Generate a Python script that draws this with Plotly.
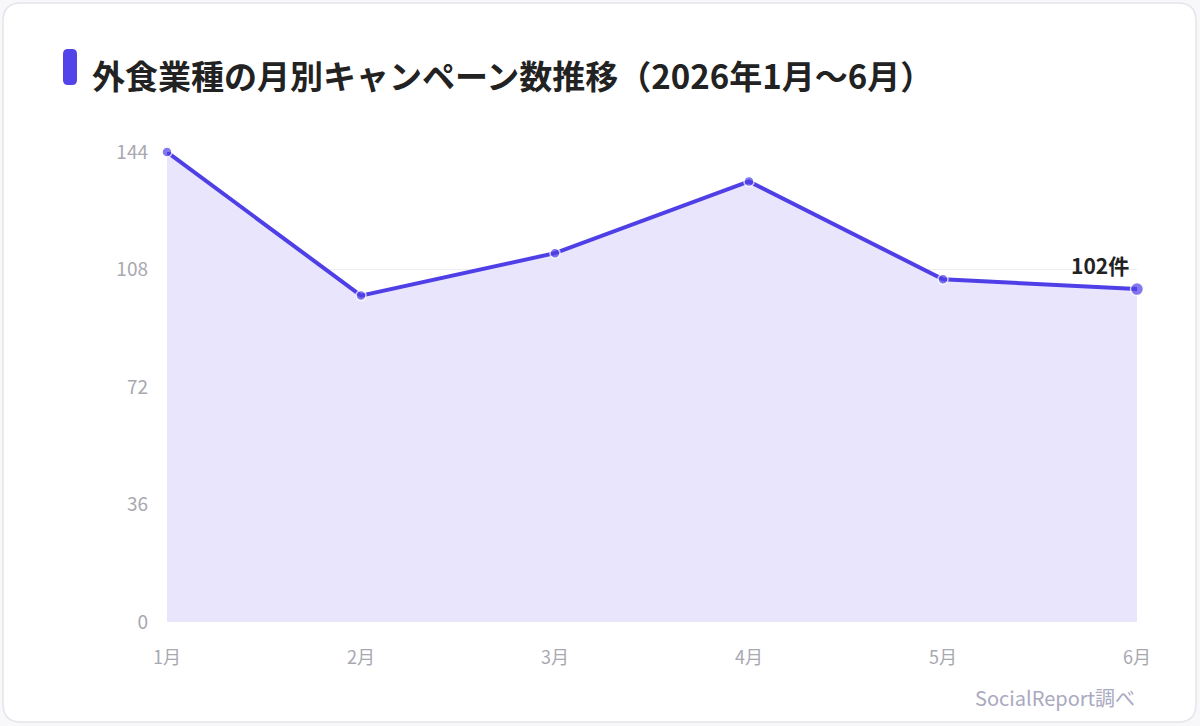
import plotly.graph_objects as go

months = ["1月", "2月", "3月", "4月", "5月", "6月"]
counts = [144, 100, 113, 135, 105, 102]
y_ticks = [0, 36, 72, 108, 144]
title_text = "外食業種の月別キャンペーン数推移（2026年1月〜6月）"
source_text = "SocialReport調べ"

LINE = "#4F3FE6"
FONT = "Noto Sans CJK JP"

# plot area in pixels: x 167..1137, y 152..622
PL, PR, PT, PB = 167, 1137, 152, 622
W, H = 1200, 726


def px_x(x):
    return (x - PL) / (PR - PL)


def px_y(y):
    return (PB - y) / (PB - PT)


def rounded_rect(x0, y0, x1, y1, r):
    X = px_x
    Y = px_y
    return (f"M {X(x0+r)},{Y(y0)} L {X(x1-r)},{Y(y0)} "
            f"Q {X(x1)},{Y(y0)} {X(x1)},{Y(y0+r)} "
            f"L {X(x1)},{Y(y1-r)} Q {X(x1)},{Y(y1)} {X(x1-r)},{Y(y1)} "
            f"L {X(x0+r)},{Y(y1)} Q {X(x0)},{Y(y1)} {X(x0)},{Y(y1-r)} "
            f"L {X(x0)},{Y(y0+r)} Q {X(x0)},{Y(y0)} {X(x0+r)},{Y(y0)} Z")


fig = go.Figure()
fig.add_trace(go.Scatter(
    x=months, y=counts, mode="lines+markers",
    line=dict(color=LINE, width=4),
    fill="tozeroy", fillcolor="#E9E5FC",
    marker=dict(size=[10, 10, 10, 10, 10, 13], color=LINE,
                line=dict(color="white", width=1.5)),
    cliponaxis=False, hoverinfo="skip",
))

fig.add_annotation(x=months[-1], y=counts[-1], text=f"<b>{counts[-1]}件</b>",
                   showarrow=False, xanchor="right", yanchor="bottom",
                   xshift=-6, yshift=7,
                   font=dict(family=FONT, size=21, color="#222222"))

fig.add_shape(type="path", xref="paper", yref="paper", layer="below",
              path=rounded_rect(3, 3, 1196, 722, 18),
              fillcolor="white", line=dict(color="#e4e4ea", width=1.5))
fig.add_shape(type="path", xref="paper", yref="paper",
              path=rounded_rect(63, 49, 77, 85, 5),
              fillcolor="#5244E8", line=dict(width=0))

fig.add_annotation(xref="paper", yref="paper", x=px_x(90), y=px_y(75),
                   text=f"<b>{title_text}</b>", showarrow=False,
                   xanchor="left", yanchor="middle",
                   font=dict(family=FONT, size=33, color="#222222"))
fig.add_annotation(xref="paper", yref="paper", x=px_x(1137), y=px_y(697),
                   text=source_text, showarrow=False,
                   xanchor="right", yanchor="middle",
                   font=dict(family=FONT, size=20, color="#a9a9c0"))

fig.update_layout(
    width=W, height=H,
    margin=dict(l=PL, r=W - PR, t=PT, b=H - PB),
    paper_bgcolor="#f8f8fa", plot_bgcolor="rgba(0,0,0,0)",
    showlegend=False,
    xaxis=dict(range=[0, 5], showgrid=False, zeroline=False, showline=False,
               tickfont=dict(family=FONT, size=18, color="#a8a8b0"),
               ticklabelstandoff=23, ticks=""),
    yaxis=dict(range=[0, 144], tickvals=y_ticks, showgrid=True,
               gridcolor="#eeeef2", gridwidth=1, zeroline=False, showline=False,
               tickfont=dict(family=FONT, size=19, color="#a8a8b0"),
               ticklabelstandoff=18, ticks=""),
)

fig.write_html("out.html")
